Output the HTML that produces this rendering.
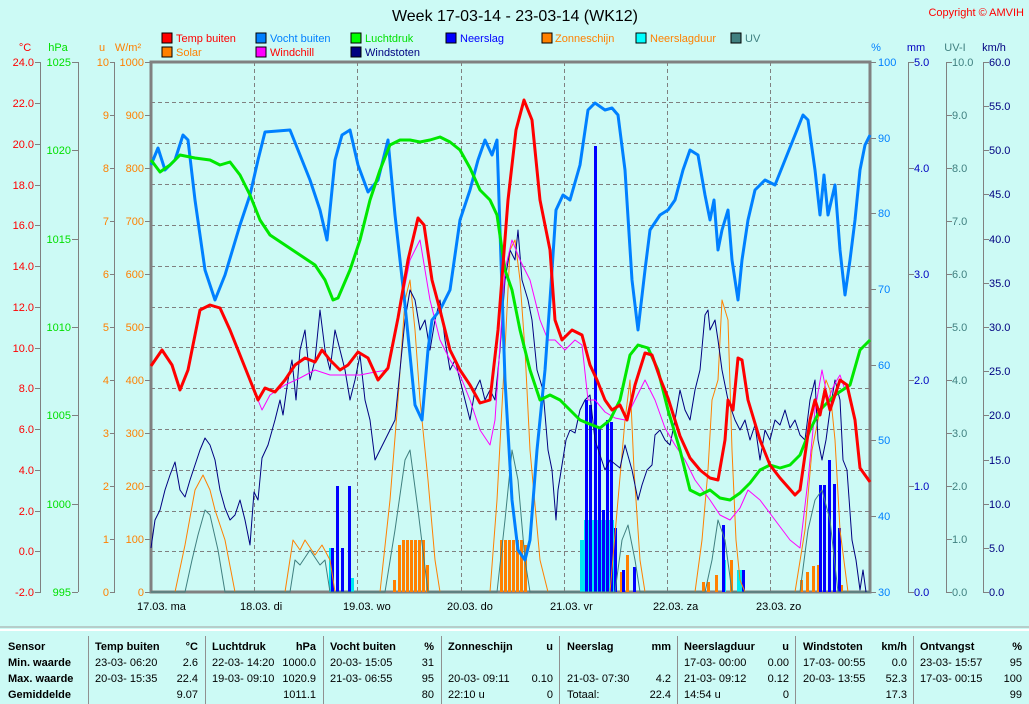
<!DOCTYPE html>
<html><head><meta charset="utf-8"><style>
html,body{margin:0;padding:0;background:#ccfaf5;}
svg{display:block;font-family:"Liberation Sans",sans-serif;}
</style></head><body>
<svg width="1029" height="704" viewBox="0 0 1029 704" xmlns="http://www.w3.org/2000/svg">
<rect width="1029" height="704" fill="#ccfaf5"/>
<text x="515" y="21" font-size="16" text-anchor="middle" fill="#000">Week 17-03-14 - 23-03-14 (WK12)</text>
<text x="1024" y="16" font-size="11" text-anchor="end" fill="#ff0000">Copyright © AMVIH</text>
<g font-size="11">
<rect x="162" y="33" width="10" height="10" fill="#ff0000" stroke="#000"/><text x="176" y="42" fill="#ff0000">Temp buiten</text>
<rect x="162" y="47" width="10" height="10" fill="#ff8000" stroke="#000"/><text x="176" y="56" fill="#ff8000">Solar</text>
<rect x="256" y="33" width="10" height="10" fill="#0080ff" stroke="#000"/><text x="270" y="42" fill="#0080ff">Vocht buiten</text>
<rect x="256" y="47" width="10" height="10" fill="#ff00ff" stroke="#000"/><text x="270" y="56" fill="#ff0000">Windchill</text>
<rect x="351" y="33" width="10" height="10" fill="#00ff00" stroke="#000"/><text x="365" y="42" fill="#00e000">Luchtdruk</text>
<rect x="351" y="47" width="10" height="10" fill="#000080" stroke="#000"/><text x="365" y="56" fill="#000080">Windstoten</text>
<rect x="446" y="33" width="10" height="10" fill="#0000ff" stroke="#000"/><text x="460" y="42" fill="#0000ff">Neerslag</text>
<rect x="542" y="33" width="10" height="10" fill="#ff8000" stroke="#000"/><text x="555" y="42" fill="#ff8000">Zonneschijn</text>
<rect x="636" y="33" width="10" height="10" fill="#00ffff" stroke="#000"/><text x="650" y="42" fill="#ff8000">Neerslagduur</text>
<rect x="731" y="33" width="10" height="10" fill="#408080" stroke="#000"/><text x="745" y="42" fill="#408080">UV</text>
</g>
<g font-size="11" text-anchor="middle">
<text x="25" y="51" fill="#ff0000">°C</text>
<text x="58" y="51" fill="#00e000">hPa</text>
<text x="102" y="51" fill="#ff8000">u</text>
<text x="128" y="51" fill="#ff8000">W/m²</text>
<text x="876" y="51" fill="#0080ff">%</text>
<text x="916" y="51" fill="#0000c0">mm</text>
<text x="955" y="51" fill="#408080">UV-I</text>
<text x="994" y="51" fill="#000080">km/h</text>
</g>
<g stroke="#808080" stroke-width="1" stroke-dasharray="4,3" fill="none">
<path d="M254.5 62V592M357.5 62V592M461.5 62V592M564.5 62V592M667.5 62V592M770.5 62V592"/>
<path d="M151 102.5H870M151 143.5H870M151 184.5H870M151 225.5H870M151 266.5H870M151 307.5H870M151 347.5H870M151 388.5H870M151 429.5H870M151 470.5H870M151 511.5H870M151 551.5H870"/>
</g>
<g stroke="#808080" fill="none">
<path d="M40.5 62V592M78.5 62V592M114.5 62V592M908.5 62V592M946.5 62V592M983.5 62V592"/>
<rect x="151" y="62" width="719" height="530" stroke-width="3"/>
</g>
<g stroke="#808080">
<path d="M35 62.5h6M35 103.5h6M35 144.5h6M35 185.5h6M35 225.5h6M35 266.5h6M35 307.5h6M35 348.5h6M35 388.5h6M35 429.5h6M35 470.5h6M35 511.5h6M35 551.5h6M35 592.5h6"/>
<path d="M72 62.5h6M72 150.5h6M72 239.5h6M72 327.5h6M72 415.5h6M72 504.5h6M72 592.5h6"/>
<path d="M110 62.5h5M110 115.5h5M110 168.5h5M110 221.5h5M110 274.5h5M110 327.5h5M110 380.5h5M110 433.5h5M110 486.5h5M110 539.5h5M110 592.5h5"/>
<path d="M145 62.5h6M145 115.5h6M145 168.5h6M145 221.5h6M145 274.5h6M145 327.5h6M145 380.5h6M145 433.5h6M145 486.5h6M145 539.5h6M145 592.5h6"/>
<path d="M870 62.5h6M870 138.5h6M870 213.5h6M870 289.5h6M870 365.5h6M870 440.5h6M870 516.5h6M870 592.5h6"/>
<path d="M908 62.5h6M908 168.5h6M908 274.5h6M908 380.5h6M908 486.5h6M908 592.5h6"/>
<path d="M946 62.5h6M946 115.5h6M946 168.5h6M946 221.5h6M946 274.5h6M946 327.5h6M946 380.5h6M946 433.5h6M946 486.5h6M946 539.5h6M946 592.5h6"/>
<path d="M983 62.5h6M983 106.5h6M983 150.5h6M983 194.5h6M983 239.5h6M983 283.5h6M983 327.5h6M983 371.5h6M983 415.5h6M983 460.5h6M983 504.5h6M983 548.5h6M983 592.5h6"/>
</g>
<g font-size="11" text-anchor="end">
<g fill="#ff0000">
<text x="34" y="66">24.0</text><text x="34" y="107">22.0</text><text x="34" y="148">20.0</text><text x="34" y="189">18.0</text><text x="34" y="229">16.0</text><text x="34" y="270">14.0</text><text x="34" y="311">12.0</text><text x="34" y="352">10.0</text><text x="34" y="392">8.0</text><text x="34" y="433">6.0</text><text x="34" y="474">4.0</text><text x="34" y="515">2.0</text><text x="34" y="555">0.0</text><text x="34" y="596">-2.0</text>
</g>
<g fill="#00e000">
<text x="71" y="66">1025</text><text x="71" y="154">1020</text><text x="71" y="243">1015</text><text x="71" y="331">1010</text><text x="71" y="419">1005</text><text x="71" y="508">1000</text><text x="71" y="596">995</text>
</g>
<g fill="#ff8000">
<text x="109" y="66">10</text><text x="109" y="119">9</text><text x="109" y="172">8</text><text x="109" y="225">7</text><text x="109" y="278">6</text><text x="109" y="331">5</text><text x="109" y="384">4</text><text x="109" y="437">3</text><text x="109" y="490">2</text><text x="109" y="543">1</text><text x="109" y="596">0</text>
<text x="144" y="66">1000</text><text x="144" y="119">900</text><text x="144" y="172">800</text><text x="144" y="225">700</text><text x="144" y="278">600</text><text x="144" y="331">500</text><text x="144" y="384">400</text><text x="144" y="437">300</text><text x="144" y="490">200</text><text x="144" y="543">100</text><text x="144" y="596">0</text>
</g>
</g>
<g font-size="11">
<g fill="#0080ff"><text x="878" y="66">100</text><text x="878" y="142">90</text><text x="878" y="217">80</text><text x="878" y="293">70</text><text x="878" y="369">60</text><text x="878" y="444">50</text><text x="878" y="520">40</text><text x="878" y="596">30</text></g>
<g fill="#0000c0"><text x="914" y="66">5.0</text><text x="914" y="172">4.0</text><text x="914" y="278">3.0</text><text x="914" y="384">2.0</text><text x="914" y="490">1.0</text><text x="914" y="596">0.0</text></g>
<g fill="#408080"><text x="952" y="66">10.0</text><text x="952" y="119">9.0</text><text x="952" y="172">8.0</text><text x="952" y="225">7.0</text><text x="952" y="278">6.0</text><text x="952" y="331">5.0</text><text x="952" y="384">4.0</text><text x="952" y="437">3.0</text><text x="952" y="490">2.0</text><text x="952" y="543">1.0</text><text x="952" y="596">0.0</text></g>
<g fill="#000080"><text x="989" y="66">60.0</text><text x="989" y="110">55.0</text><text x="989" y="154">50.0</text><text x="989" y="198">45.0</text><text x="989" y="243">40.0</text><text x="989" y="287">35.0</text><text x="989" y="331">30.0</text><text x="989" y="375">25.0</text><text x="989" y="419">20.0</text><text x="989" y="464">15.0</text><text x="989" y="508">10.0</text><text x="989" y="552">5.0</text><text x="989" y="596">0.0</text></g>
</g>
<g font-size="11" fill="#000">
<text x="137" y="610">17.03.  ma</text><text x="240" y="610">18.03.  di</text><text x="343" y="610">19.03.  wo</text><text x="447" y="610">20.03.  do</text><text x="550" y="610">21.03.  vr</text><text x="653" y="610">22.03.  za</text><text x="756" y="610">23.03.  zo</text>
</g>
<g fill="#00e8f0">
<rect x="329" y="548" width="3" height="44"/><rect x="350" y="578" width="4" height="14"/><rect x="580" y="540" width="4" height="52"/><rect x="584" y="520" width="30" height="72"/><rect x="722" y="560" width="4" height="32"/><rect x="737" y="570" width="6" height="22"/>
</g>
<g fill="#ff8000">
<rect x="393" y="580" width="3" height="12"/><rect x="398" y="545" width="3" height="47"/><rect x="402" y="540" width="3" height="52"/><rect x="406" y="540" width="3" height="52"/><rect x="410" y="540" width="3" height="52"/><rect x="414" y="540" width="3" height="52"/><rect x="418" y="540" width="3" height="52"/><rect x="422" y="540" width="3" height="52"/><rect x="426" y="565" width="3" height="27"/>
<rect x="500" y="540" width="3" height="52"/><rect x="504" y="540" width="3" height="52"/><rect x="508" y="540" width="3" height="52"/><rect x="512" y="540" width="3" height="52"/><rect x="516" y="540" width="3" height="52"/><rect x="520" y="540" width="3" height="52"/><rect x="524" y="545" width="3" height="47"/>
<rect x="620" y="572" width="3" height="20"/><rect x="626" y="555" width="3" height="37"/><rect x="702" y="582" width="3" height="10"/><rect x="707" y="582" width="3" height="10"/><rect x="715" y="575" width="3" height="17"/><rect x="730" y="560" width="3" height="32"/><rect x="800" y="580" width="3" height="12"/><rect x="806" y="572" width="3" height="20"/><rect x="812" y="566" width="3" height="26"/><rect x="817" y="565" width="3" height="27"/><rect x="840" y="585" width="3" height="7"/>
</g>
<g fill="#0000ff">
<rect x="331" y="548" width="3" height="44"/><rect x="336" y="486" width="3" height="106"/><rect x="341" y="548" width="3" height="44"/><rect x="348" y="486" width="3" height="106"/>
<rect x="585" y="400" width="3" height="192"/><rect x="589" y="405" width="3" height="187"/><rect x="594" y="146" width="3" height="446"/><rect x="598" y="428" width="3" height="164"/><rect x="602" y="510" width="3" height="82"/><rect x="606" y="420" width="3" height="172"/><rect x="610" y="422" width="3" height="170"/><rect x="614" y="528" width="3" height="64"/><rect x="622" y="570" width="3" height="22"/><rect x="633" y="567" width="3" height="25"/>
<rect x="722" y="525" width="3" height="67"/><rect x="742" y="570" width="3" height="22"/>
<rect x="819" y="485" width="3" height="107"/><rect x="823" y="485" width="3" height="107"/><rect x="828" y="460" width="3" height="132"/><rect x="833" y="484" width="3" height="108"/><rect x="838" y="528" width="3" height="64"/>
</g>
<g fill="none" stroke-width="1" stroke-linejoin="round">
<polyline stroke="#ff8000" points="151,592 175,592 185,545 195,490 203,475 210,490 215,510 225,540 235,592 285,592 293,540 300,550 305,540 315,555 322,545 330,560 335,592 380,592 390,500 398,400 405,300 410,280 415,330 420,400 428,480 435,560 440,592 490,592 497,500 505,350 510,250 515,240 520,280 525,350 530,450 540,560 548,592 610,592 618,500 625,420 630,380 634,470 640,560 645,592 695,592 702,540 708,470 712,400 718,380 722,300 728,320 732,450 736,540 740,580 745,592 795,592 805,530 812,450 818,420 822,400 826,380 830,390 835,440 840,530 848,592 870,592"/>
<polyline stroke="#408080" points="151,592 185,592 192,560 198,535 205,510 210,515 218,550 225,592 290,592 295,560 300,565 310,550 320,565 325,560 330,592 385,592 395,530 405,460 410,450 418,510 428,592 497,592 505,520 512,450 518,480 525,560 530,592 615,592 622,540 628,525 635,560 640,592 705,592 712,560 718,520 725,540 732,592 800,592 808,530 815,500 822,490 830,520 838,592 870,592"/>
<polyline stroke="#000080" points="151,548 155,520 160,510 165,490 170,475 175,462 180,490 185,497 190,480 195,465 200,450 205,438 210,445 215,460 220,490 225,508 230,520 235,515 240,500 245,520 250,545 254,492 258,500 262,458 268,445 275,420 280,400 283,415 288,380 292,360 296,400 300,350 305,330 310,380 315,360 320,310 325,350 330,370 335,330 340,350 345,370 350,400 355,380 360,355 365,400 370,420 375,460 380,450 385,440 390,430 395,420 400,370 405,320 410,290 415,300 420,330 425,320 430,350 435,320 440,300 445,340 450,370 455,360 460,380 465,400 470,420 475,390 480,380 485,400 490,390 495,400 500,350 505,280 510,250 515,260 518,230 522,280 528,300 532,320 537,370 543,390 548,450 552,470 556,520 558,490 562,465 566,440 570,430 575,433 580,410 585,400 590,395 595,440 600,455 605,470 610,460 620,468 625,445 632,470 638,500 642,485 647,470 652,465 655,435 660,430 665,440 670,445 675,420 680,390 685,410 690,420 695,390 700,370 705,315 708,310 710,330 715,320 718,340 722,370 728,400 735,420 740,430 745,420 750,440 755,425 760,460 765,430 770,440 775,420 780,425 785,410 790,428 795,420 800,435 805,440 810,400 815,380 818,440 822,460 826,440 830,410 835,380 840,400 843,460 847,470 852,540 856,560 860,590 863,570 866,592"/>
<polyline stroke="#ff00ff" points="250,380 258,400 262,410 270,395 285,385 300,378 315,370 330,375 345,375 360,375 375,372 388,370 398,320 410,260 420,240 430,300 440,340 450,360 460,375 470,400 480,430 490,445 495,420 505,270 512,240 520,260 530,280 540,320 548,340 555,340 565,350 575,340 582,345 588,400 595,400 605,412 615,418 625,420 635,400 645,380 655,400 665,428 675,445 685,460 695,480 710,500 720,515 730,520 740,508 748,490 760,500 775,520 790,540 800,548 808,480 815,410 822,370 828,400 834,385 840,375 845,390"/>
</g>
<g fill="none" stroke-width="3" stroke-linejoin="round">
<polyline stroke="#0080ff" points="151,165 158,148 165,170 175,160 183,135 188,140 195,200 205,270 215,300 225,275 240,225 250,195 258,160 265,132 290,130 300,155 310,180 320,210 327,240 335,160 342,135 350,130 358,165 368,192 378,180 388,140 395,215 405,305 415,405 422,420 428,350 432,320 440,310 450,290 460,220 470,190 478,160 485,140 492,155 497,140 500,230 505,380 512,500 518,550 525,560 530,540 537,450 545,370 550,300 556,210 563,195 570,200 580,165 588,110 595,103 605,110 612,108 618,115 625,170 632,280 638,330 645,270 650,230 660,215 668,210 675,200 683,170 690,150 698,155 705,195 710,220 714,200 718,250 722,230 728,210 732,260 738,300 742,260 748,220 755,190 765,180 775,185 785,160 795,135 803,115 808,120 815,170 820,215 824,175 828,215 835,185 840,250 845,295 850,260 855,220 860,170 865,145 870,135"/>
<polyline stroke="#00e800" points="151,160 160,172 170,165 180,155 195,158 210,160 220,165 230,162 240,175 250,195 260,220 270,235 285,245 300,255 315,265 325,280 333,300 338,298 350,270 360,240 370,200 380,170 390,145 400,140 410,140 420,142 430,140 440,137 450,142 460,150 470,168 480,190 490,200 497,215 505,270 512,290 520,330 530,370 540,400 550,395 560,400 570,410 580,420 592,425 600,428 610,420 620,400 630,355 638,345 648,348 658,370 668,410 680,450 690,490 700,495 710,490 720,498 730,500 740,493 750,483 760,470 770,465 780,468 790,465 800,455 810,430 820,410 835,395 850,385 860,350 870,340"/>
<polyline stroke="#ff0000" points="151,366 162,350 172,365 180,390 188,370 200,310 210,305 220,308 230,330 240,355 250,380 258,400 265,388 275,392 285,380 295,365 305,358 315,362 322,350 330,360 340,370 348,365 358,352 368,358 378,380 388,368 398,318 408,260 418,218 424,225 432,280 440,310 450,350 460,370 470,385 480,403 490,400 498,330 508,200 516,130 524,100 532,120 540,200 550,250 555,320 562,340 572,330 582,335 590,365 597,380 605,400 612,410 620,405 627,420 635,385 645,353 652,355 660,378 668,398 680,436 690,458 700,470 710,478 718,480 725,440 728,400 733,410 738,358 742,360 748,400 760,440 770,465 780,478 795,495 800,490 810,420 815,400 820,415 825,390 830,410 835,395 840,380 847,385 855,420 860,468 870,482"/>
</g>
<line x1="0" y1="627" x2="1029" y2="627" stroke="#a0a0a0"/>
<line x1="0" y1="630" x2="1029" y2="630" stroke="#ffffff" stroke-width="2"/>
<g stroke="#909090"><path d="M88.5 636V704M205.5 636V704M323.5 636V704M441.5 636V704M559.5 636V704M677.5 636V704M795.5 636V704M913.5 636V704"/></g>
<g font-size="11" font-weight="bold" fill="#000">
<text x="8" y="650">Sensor</text><text x="8" y="666">Min. waarde</text><text x="8" y="682">Max. waarde</text><text x="8" y="698">Gemiddelde</text>
<text x="95" y="650">Temp buiten</text><text x="198" y="650" text-anchor="end">°C</text>
<text x="212" y="650">Luchtdruk</text><text x="316" y="650" text-anchor="end">hPa</text>
<text x="330" y="650">Vocht buiten</text><text x="434" y="650" text-anchor="end">%</text>
<text x="448" y="650">Zonneschijn</text><text x="553" y="650" text-anchor="end">u</text>
<text x="567" y="650">Neerslag</text><text x="671" y="650" text-anchor="end">mm</text>
<text x="684" y="650">Neerslagduur</text><text x="789" y="650" text-anchor="end">u</text>
<text x="803" y="650">Windstoten</text><text x="907" y="650" text-anchor="end">km/h</text>
<text x="920" y="650">Ontvangst</text><text x="1022" y="650" text-anchor="end">%</text>
</g>
<g font-size="11" fill="#000">
<text x="95" y="666">23-03-  06:20</text><text x="198" y="666" text-anchor="end">2.6</text>
<text x="95" y="682">20-03-  15:35</text><text x="198" y="682" text-anchor="end">22.4</text>
<text x="198" y="698" text-anchor="end">9.07</text>
<text x="212" y="666">22-03-  14:20</text><text x="316" y="666" text-anchor="end">1000.0</text>
<text x="212" y="682">19-03-  09:10</text><text x="316" y="682" text-anchor="end">1020.9</text>
<text x="316" y="698" text-anchor="end">1011.1</text>
<text x="330" y="666">20-03-  15:05</text><text x="434" y="666" text-anchor="end">31</text>
<text x="330" y="682">21-03-  06:55</text><text x="434" y="682" text-anchor="end">95</text>
<text x="434" y="698" text-anchor="end">80</text>
<text x="448" y="682">20-03-  09:11</text><text x="553" y="682" text-anchor="end">0.10</text>
<text x="448" y="698">22:10 u</text><text x="553" y="698" text-anchor="end">0</text>
<text x="567" y="682">21-03-  07:30</text><text x="671" y="682" text-anchor="end">4.2</text>
<text x="567" y="698">Totaal:</text><text x="671" y="698" text-anchor="end">22.4</text>
<text x="684" y="666">17-03-  00:00</text><text x="789" y="666" text-anchor="end">0.00</text>
<text x="684" y="682">21-03-  09:12</text><text x="789" y="682" text-anchor="end">0.12</text>
<text x="684" y="698">14:54 u</text><text x="789" y="698" text-anchor="end">0</text>
<text x="803" y="666">17-03-  00:55</text><text x="907" y="666" text-anchor="end">0.0</text>
<text x="803" y="682">20-03-  13:55</text><text x="907" y="682" text-anchor="end">52.3</text>
<text x="907" y="698" text-anchor="end">17.3</text>
<text x="920" y="666">23-03-  15:57</text><text x="1022" y="666" text-anchor="end">95</text>
<text x="920" y="682">17-03-  00:15</text><text x="1022" y="682" text-anchor="end">100</text>
<text x="1022" y="698" text-anchor="end">99</text>
</g>
</svg>
</body></html>
